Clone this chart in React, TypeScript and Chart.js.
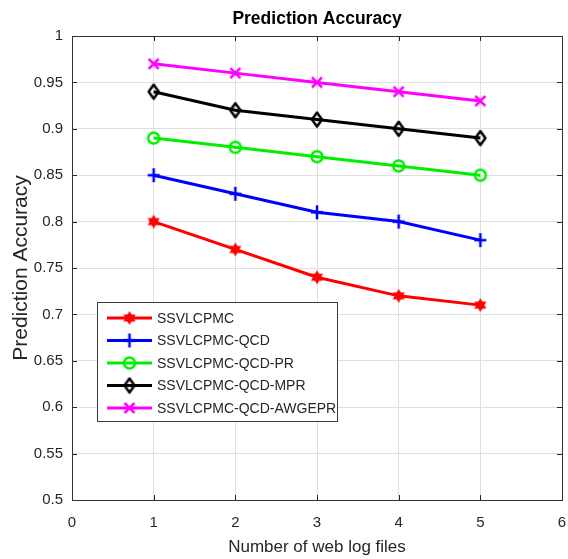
import React, { useEffect, useRef } from 'react';
import { Chart, registerables } from 'chart.js';

Chart.register(...registerables);

// ---- data ----
const xValues = [1, 2, 3, 4, 5];
const seriesNames = [
  'SSVLCPMC',
  'SSVLCPMC-QCD',
  'SSVLCPMC-QCD-PR',
  'SSVLCPMC-QCD-MPR',
  'SSVLCPMC-QCD-AWGEPR',
];
const ssvlcpmc = [0.8, 0.77, 0.74, 0.72, 0.71];
const ssvlcpmcQcd = [0.85, 0.83, 0.81, 0.8, 0.78];
const ssvlcpmcQcdPr = [0.89, 0.88, 0.87, 0.86, 0.85];
const ssvlcpmcQcdMpr = [0.94, 0.92, 0.91, 0.9, 0.89];
const ssvlcpmcQcdAwgepr = [0.97, 0.96, 0.95, 0.94, 0.93];
const xTicks = [0, 1, 2, 3, 4, 5, 6];
const yTicks = [0.5, 0.55, 0.6, 0.65, 0.7, 0.75, 0.8, 0.85, 0.9, 0.95, 1];

const titleText = 'Prediction Accuracy';
const xTitle = 'Number of web log files';
const yTitle = 'Prediction Accuracy';

const FONT = '"Liberation Sans", Arial, Helvetica, sans-serif';
const TEXT = '#262626';

type MarkerKind = 'hexagram' | 'plus' | 'circle' | 'diamond' | 'x';

function makeMarker(kind: MarkerKind, color: string): HTMLCanvasElement {
  const c = document.createElement('canvas');
  const S = 18;
  c.width = S;
  c.height = S;
  const ctx = c.getContext('2d')!;
  const cx = S / 2;
  const cy = S / 2;
  ctx.strokeStyle = color;
  ctx.fillStyle = color;
  ctx.lineWidth = 2.5;
  ctx.lineJoin = 'round';
  if (kind === 'hexagram') {
    const r = 7;
    for (let t = 0; t < 2; t++) {
      ctx.beginPath();
      for (let i = 0; i < 3; i++) {
        const a = -Math.PI / 2 + t * Math.PI + (i * 2 * Math.PI) / 3;
        const px = cx + r * Math.cos(a);
        const py = cy + r * Math.sin(a);
        if (i === 0) ctx.moveTo(px, py);
        else ctx.lineTo(px, py);
      }
      ctx.closePath();
      ctx.fill();
    }
  } else if (kind === 'plus') {
    ctx.beginPath();
    ctx.moveTo(cx - 6, cy);
    ctx.lineTo(cx + 6, cy);
    ctx.moveTo(cx, cy - 7);
    ctx.lineTo(cx, cy + 7);
    ctx.stroke();
  } else if (kind === 'circle') {
    ctx.beginPath();
    ctx.arc(cx, cy, 5.5, 0, Math.PI * 2);
    ctx.stroke();
  } else if (kind === 'diamond') {
    ctx.beginPath();
    ctx.moveTo(cx, cy - 7);
    ctx.lineTo(cx + 5, cy);
    ctx.lineTo(cx, cy + 7);
    ctx.lineTo(cx - 5, cy);
    ctx.closePath();
    ctx.stroke();
  } else {
    ctx.beginPath();
    ctx.moveTo(cx - 5, cy - 5);
    ctx.lineTo(cx + 5, cy + 5);
    ctx.moveTo(cx + 5, cy - 5);
    ctx.lineTo(cx - 5, cy + 5);
    ctx.stroke();
  }
  return c;
}

export default function App() {
  const ref = useRef<HTMLCanvasElement | null>(null);

  useEffect(() => {
    document.body.style.margin = '0';
    const canvas = ref.current!;
    const seriesValues = [ssvlcpmc, ssvlcpmcQcd, ssvlcpmcQcdPr, ssvlcpmcQcdMpr, ssvlcpmcQcdAwgepr];
    const colors = ['#ff0000', '#0000ff', '#00ee00', '#000000', '#ff00ff'];
    const kinds: MarkerKind[] = ['hexagram', 'plus', 'circle', 'diamond', 'x'];
    const markers = kinds.map((k, i) => makeMarker(k, colors[i]));

    const datasets = seriesValues.map((vals, i) => ({
      label: seriesNames[i],
      data: vals.map((v, j) => ({ x: xValues[j], y: v })),
      borderColor: colors[i],
      backgroundColor: colors[i],
      borderWidth: 3,
      pointStyle: markers[i] as any,
      pointRadius: 7,
      tension: 0,
      fill: false,
    }));

    const framePlugin = {
      id: 'matlabFrame',
      beforeDraw(chart: any) {
        const ctx = chart.ctx;
        ctx.save();
        ctx.fillStyle = '#ffffff';
        ctx.fillRect(0, 0, chart.width, chart.height);
        ctx.restore();
      },
      beforeDatasetsDraw(chart: any) {
        const { ctx, chartArea } = chart;
        const xs = chart.scales.x;
        const ys = chart.scales.y;
        const { left, right, top, bottom } = chartArea;
        ctx.save();
        ctx.strokeStyle = TEXT;
        ctx.lineWidth = 1;
        ctx.beginPath();
        const tl = 5;
        xTicks.forEach((t) => {
          const px = Math.round(xs.getPixelForValue(t)) + 0.5;
          ctx.moveTo(px, bottom);
          ctx.lineTo(px, bottom - tl);
          ctx.moveTo(px, top);
          ctx.lineTo(px, top + tl);
        });
        yTicks.forEach((t) => {
          const py = Math.round(ys.getPixelForValue(t)) + 0.5;
          ctx.moveTo(left, py);
          ctx.lineTo(left + tl, py);
          ctx.moveTo(right, py);
          ctx.lineTo(right - tl, py);
        });
        ctx.stroke();
        ctx.strokeStyle = '#333333';
        ctx.strokeRect(Math.round(left) + 0.5, Math.round(top) + 0.5, Math.round(right - left), Math.round(bottom - top));
        ctx.restore();
      },
      afterDatasetsDraw(chart: any) {
        const ctx = chart.ctx;
        const bx = 97, by = 302, bw = 240, bh = 119;
        ctx.save();
        ctx.fillStyle = '#ffffff';
        ctx.fillRect(bx, by, bw, bh);
        ctx.strokeStyle = '#3a3a3a';
        ctx.lineWidth = 1;
        ctx.strokeRect(bx + 0.5, by + 0.5, bw, bh);
        const rowY = [318, 340.5, 363, 385.5, 408];
        ctx.font = `14px ${FONT}`;
        ctx.textBaseline = 'middle';
        ctx.textAlign = 'left';
        seriesNames.forEach((name, i) => {
          const y = rowY[i];
          ctx.strokeStyle = colors[i];
          ctx.lineWidth = 3;
          ctx.beginPath();
          ctx.moveTo(107, y);
          ctx.lineTo(152, y);
          ctx.stroke();
          const m = markers[i];
          ctx.drawImage(m, 129.5 - m.width / 2, y - m.height / 2);
          ctx.fillStyle = TEXT;
          ctx.fillText(name, 157, y + 1);
        });
        ctx.restore();
      },
    };

    const chart = new Chart(canvas, {
      type: 'line',
      data: { datasets: datasets as any },
      options: {
        animation: false,
        responsive: false,
        devicePixelRatio: 1,
        layout: { autoPadding: false, padding: { left: 0, right: 6, top: 0, bottom: 0 } },
        plugins: {
          legend: { display: false },
          tooltip: { enabled: false },
          title: {
            display: true,
            text: titleText,
            fullSize: false,
            color: '#000000',
            font: { family: FONT, size: 17.5, weight: 'bold', lineHeight: 1.2 },
            padding: { top: 9, bottom: 6 },
          },
        },
        scales: {
          x: {
            type: 'linear',
            min: 0,
            max: 6,
            afterFit: (s: any) => {
              s.height = 59;
              s.paddingLeft = 0;
              s.paddingRight = 0;
            },
            afterBuildTicks: (s: any) => {
              s.ticks = xTicks.map((v) => ({ value: v }));
            },
            ticks: {
              color: TEXT,
              font: { family: FONT, size: 15 },
              padding: 14,
              maxRotation: 0,
              callback: (v: any) => String(v),
            },
            grid: { color: '#dfdfdf', drawTicks: false, lineWidth: 1 },
            border: { display: false },
            title: {
              display: true,
              text: xTitle,
              color: TEXT,
              font: { family: FONT, size: 17, lineHeight: 1.2 },
              padding: { top: 0, bottom: 1 },
            },
          },
          y: {
            type: 'linear',
            min: 0.5,
            max: 1,
            afterFit: (s: any) => {
              s.width = 72;
              s.paddingTop = 0;
              s.paddingBottom = 0;
            },
            afterBuildTicks: (s: any) => {
              s.ticks = yTicks.map((v) => ({ value: v }));
            },
            ticks: {
              color: TEXT,
              font: { family: FONT, size: 15 },
              padding: 9,
              callback: (v: any) => String(parseFloat(Number(v).toFixed(2))),
            },
            grid: { color: '#dfdfdf', drawTicks: false, lineWidth: 1 },
            border: { display: false },
            title: {
              display: true,
              text: yTitle,
              color: TEXT,
              font: { family: FONT, size: 21, lineHeight: 1.2 },
              padding: { top: 9, bottom: 0 },
            },
          },
        },
      },
      plugins: [framePlugin],
    });

    return () => chart.destroy();
  }, []);

  return (
    <div style={{ position: 'fixed', left: 0, top: 0, width: 568, height: 559, background: '#fff' }}>
      <canvas ref={ref} width={568} height={559} style={{ width: 568, height: 559, display: 'block' }} />
    </div>
  );
}
